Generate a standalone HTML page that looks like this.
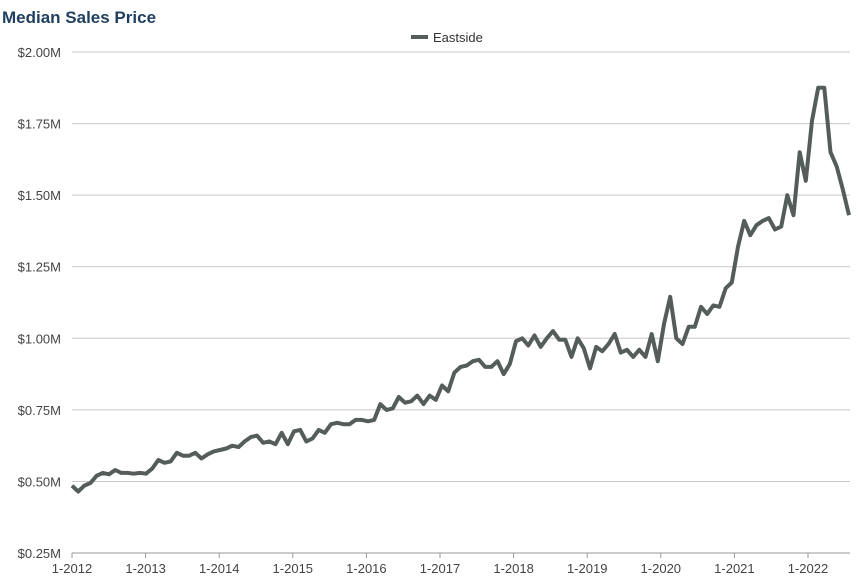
<!DOCTYPE html>
<html><head><meta charset="utf-8"><style>
body{margin:0;background:#fff;font-family:"Liberation Sans",sans-serif}
</style></head><body>
<svg width="864" height="576" xmlns="http://www.w3.org/2000/svg" font-family="Liberation Sans, sans-serif">
<text x="2" y="23" font-size="17" font-weight="bold" fill="#1f3f5f">Median Sales Price</text>
<line x1="411" y1="37" x2="428" y2="37" stroke="#555d5b" stroke-width="4"/>
<text x="433" y="42" font-size="13" fill="#333">Eastside</text>
<g id="grid" stroke="#c8c8c8" stroke-width="1"></g>
<g id="ylab" font-size="13" fill="#444" text-anchor="end"></g>
<g id="xlab" font-size="13" fill="#444" text-anchor="middle"></g>
<line x1="72" y1="553" x2="850" y2="553" stroke="#999"/>
<polyline id="line" fill="none" stroke="#555d5b" stroke-width="4" stroke-linejoin="round"/>
</svg>
<script>
var ns="http://www.w3.org/2000/svg";
function Y(v){return 52+(2.0-v)*286.3;}
var g=document.getElementById("grid"),yl=document.getElementById("ylab"),xl=document.getElementById("xlab");
var labs=["$0.25M","$0.50M","$0.75M","$1.00M","$1.25M","$1.50M","$1.75M","$2.00M"];
for(var i=0;i<8;i++){var v=0.25+i*0.25,y=Y(v);
 if(i>0){var l=document.createElementNS(ns,"line");l.setAttribute("x1",72);l.setAttribute("x2",850);l.setAttribute("y1",y);l.setAttribute("y2",y);g.appendChild(l);}
 var t=document.createElementNS(ns,"text");t.setAttribute("x",61);t.setAttribute("y",y+5);t.textContent=labs[i];yl.appendChild(t);}
for(var k=0;k<11;k++){var x=72+k*73.6;
 var tk=document.createElementNS(ns,"line");tk.setAttribute("x1",x);tk.setAttribute("x2",x);tk.setAttribute("y1",553);tk.setAttribute("y2",558);tk.setAttribute("stroke","#999");g.appendChild(tk);
 var t=document.createElementNS(ns,"text");t.setAttribute("x",x);t.setAttribute("y",573);t.textContent="1-"+(2012+k);xl.appendChild(t);}
var d=[.485,.465,.485,.495,.52,.53,.525,.54,.53,.53,.527,.53,
.527,.545,.575,.565,.57,.60,.59,.59,.60,.58,.595,.605,
.61,.615,.625,.62,.64,.655,.66,.635,.64,.63,.67,.63,
.675,.68,.64,.65,.68,.67,.70,.705,.70,.70,.715,.715,
.71,.715,.77,.75,.755,.795,.775,.78,.80,.77,.80,.785,
.835,.815,.88,.90,.905,.92,.925,.90,.90,.92,.875,.91,
.99,1.0,.975,1.01,.97,1.0,1.025,.995,.995,.935,
1.0,.965,.895,.97,.955,.98,1.015,.95,.96,.935,.96,.935,
1.015,.92,1.05,1.145,1.0,.98,1.04,1.04,1.11,1.085,1.115,1.11,1.175,1.195,
1.32,1.41,1.36,1.395,1.41,1.42,1.38,1.39,1.50,1.43,1.65,1.55,
1.76,1.875,1.875,1.65,1.60,1.52,1.43];
var n=d.length,pts=[];
for(var i=0;i<n;i++){var x=72+i*(849-72)/(n-1);pts.push(x.toFixed(1)+","+Y(d[i]).toFixed(1));}
document.getElementById("line").setAttribute("points",pts.join(" "));
</script>
</body></html>
